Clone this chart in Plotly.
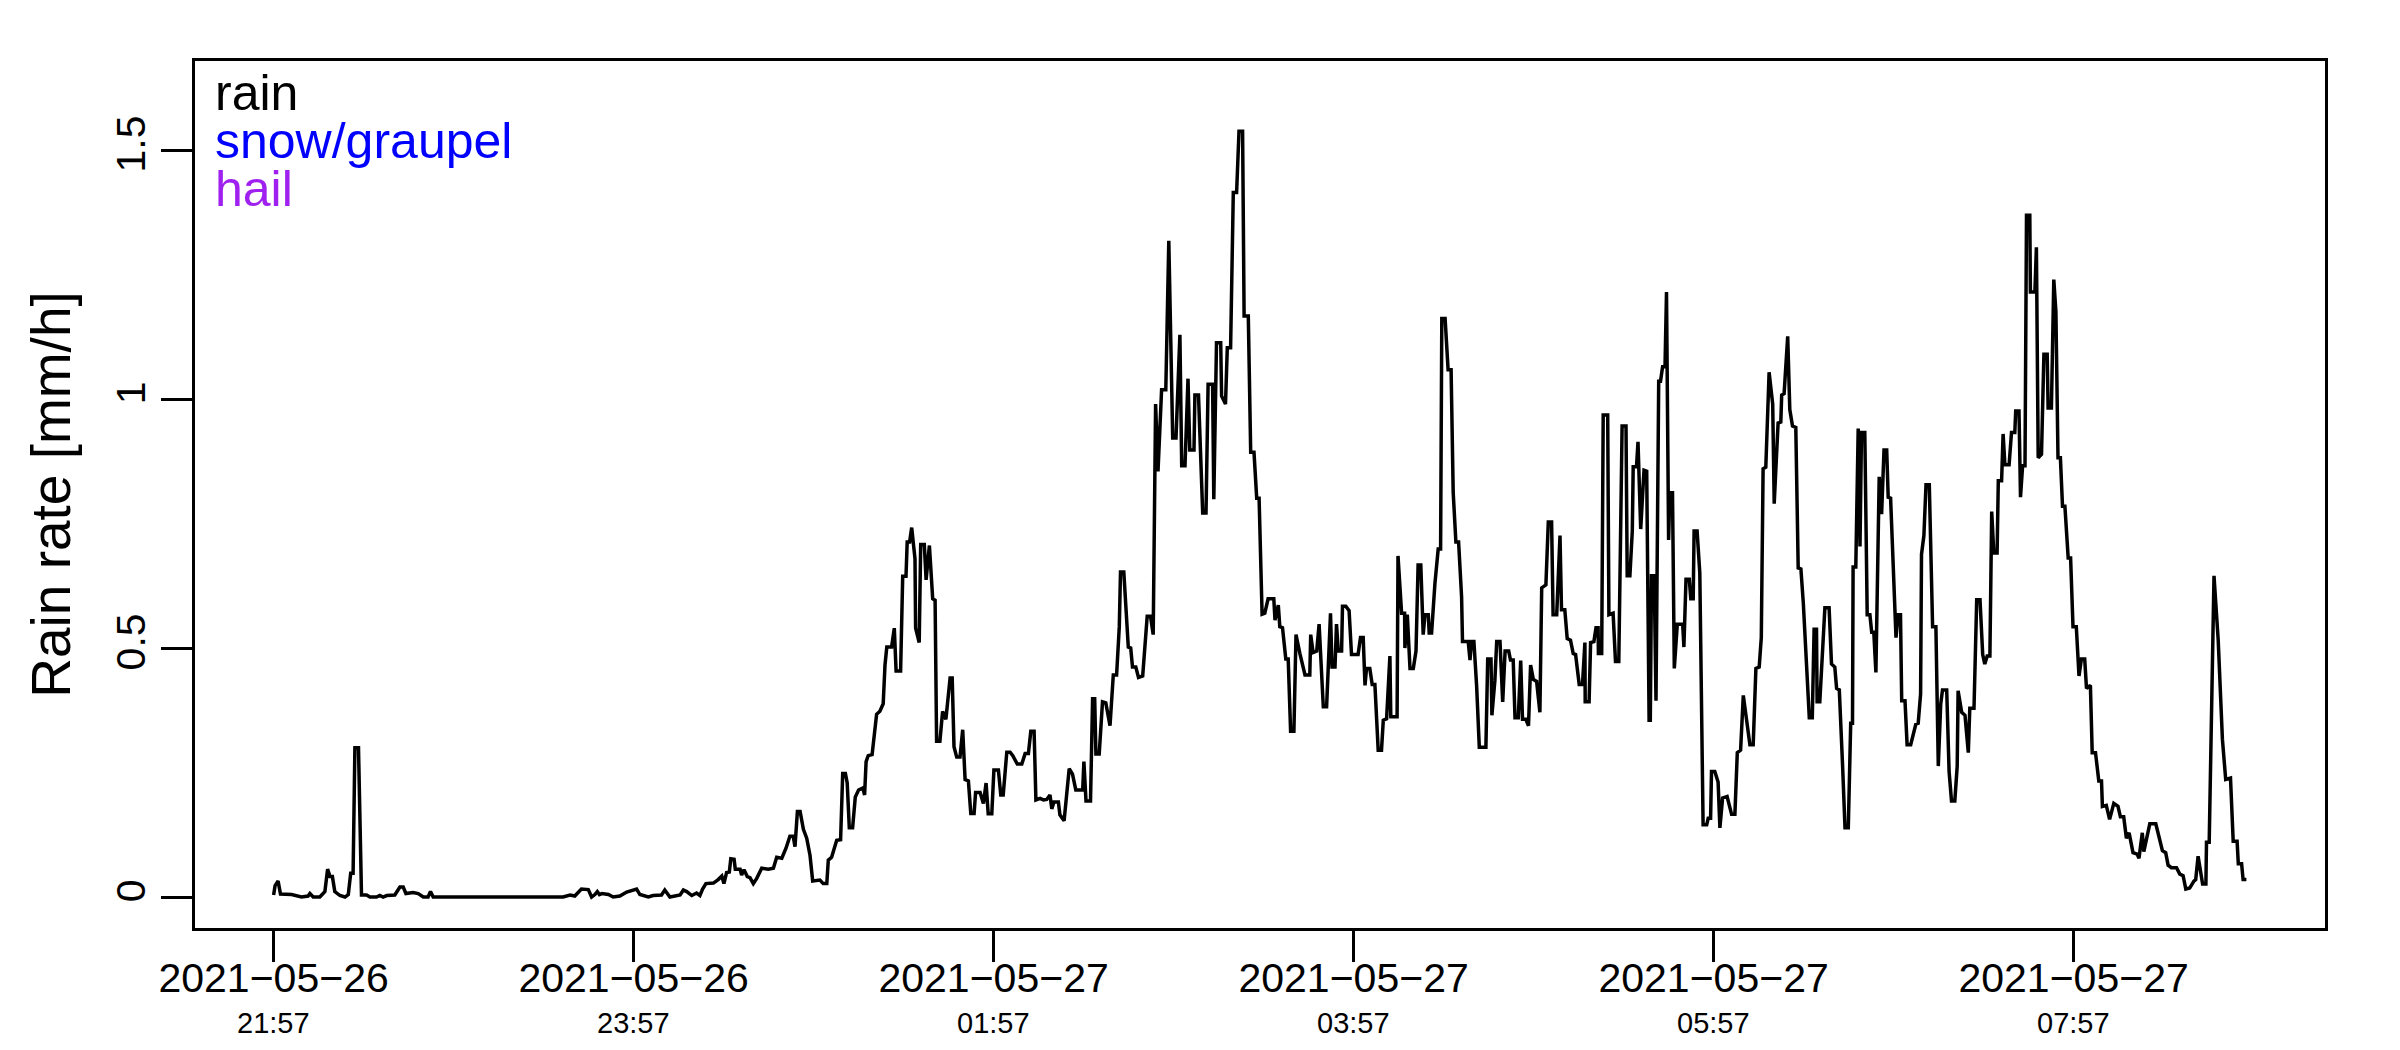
import pandas as pd
import plotly.graph_objects as go

# ---- data (minutes after 2021-05-26 21:57, rain rate mm/h)
start_time = "2021-05-26 21:57"
minutes = [
    0.0, 0.5, 1.5, 2.3, 6.0, 9.3, 11.5, 12.1, 13.2, 15.4, 16.5, 17.1, 18.0, 18.8, 19.6, 20.4,
    22.1, 23.8, 24.9, 25.7, 26.5, 27.1, 28.3, 29.3, 31.0, 32.1, 34.3, 35.4, 36.5, 37.7, 40.4,
    42.1, 43.2, 44.1, 46.5, 48.2, 49.9, 51.5, 52.3, 53.2, 96.5, 98.8, 100.4, 102.6, 104.9,
    106.0, 107.1, 107.9, 108.6, 109.4, 111.6, 113.2, 115.4, 117.7, 121.0, 122.1, 124.9,
    126.5, 129.3, 130.4, 132.1, 135.5, 136.6, 137.7, 139.4, 141.0, 142.1, 143.0, 144.1,
    146.6, 148.2, 149.4, 150.1, 151.0, 151.9, 152.4, 153.5, 153.9, 155.5, 156.0, 156.8,
    157.9, 158.8, 159.9, 161.0, 162.7, 164.9, 166.6, 167.7, 169.4, 170.8, 172.1, 173.2,
    173.8, 174.6, 175.5, 176.6, 177.7, 178.8, 179.7, 182.1, 183.2, 184.4, 184.9, 186.0,
    187.7, 189.0, 189.7, 190.6, 191.2, 191.9, 193.0, 193.9, 195.0, 196.4, 197.0, 197.5,
    198.2, 199.5, 201.0, 202.1, 203.2, 203.8, 204.4, 206.0, 206.9, 207.5, 209.0, 209.7,
    210.8, 211.2, 212.0, 212.7, 213.8, 214.0, 215.2, 215.7, 216.9, 217.5, 218.6, 219.7,
    220.5, 221.0, 222.1, 223.0, 224.1, 225.5, 226.2, 226.8, 227.7, 228.8, 229.7, 230.5,
    231.6, 232.4, 233.5, 234.0, 235.5, 236.6, 237.5, 238.2, 239.4, 240.1, 241.6, 242.4,
    243.2, 244.4, 245.5, 246.4, 247.9, 249.4, 250.5, 251.6, 252.4, 253.5, 254.1, 255.5,
    256.6, 257.7, 258.8, 259.4, 260.1, 261.6, 262.1, 263.5, 265.2, 266.3, 267.4, 269.7,
    270.1, 270.8, 272.3, 273.0, 273.7, 274.1, 275.2, 276.3, 277.4, 278.8, 279.9, 281.0,
    281.9, 282.3, 283.4, 284.9, 285.7, 286.3, 287.4, 288.3, 289.7, 291.2, 292.3, 293.2,
    294.0, 294.8, 296.0, 297.4, 298.4, 299.7, 300.8, 302.1, 302.7, 303.8, 304.8, 305.4,
    306.8, 307.1, 308.3, 309.7, 310.8, 311.5, 313.0, 313.4, 314.3, 315.7, 316.0, 317.3,
    317.9, 319.0, 319.9, 321.0, 321.8, 323.0, 323.5, 324.9, 325.7, 326.8, 327.7, 328.5,
    329.5, 330.4, 331.5, 333.4, 333.8, 334.9, 335.4, 336.3, 337.4, 338.2, 339.0, 340.1,
    340.8, 342.1, 343.8, 345.4, 345.7, 346.5, 347.7, 348.5, 349.9, 351.0, 352.3, 352.8,
    353.8, 354.3, 354.9, 356.0, 356.3, 357.4, 358.5, 359.3, 361.5, 362.3, 363.2, 363.8,
    364.3, 365.4, 366.2, 367.1, 368.2, 369.3, 369.9, 371.0, 372.1, 372.4, 374.5, 374.8,
    376.0, 377.0, 377.1, 377.9, 378.8, 379.9, 380.8, 381.5, 382.4, 383.2, 383.8, 384.9,
    385.2, 386.0, 387.1, 388.2, 389.0, 389.4, 390.5, 391.5, 392.5, 393.2, 394.1, 395.0,
    396.0, 396.3, 398.2, 398.8, 399.3, 400.1, 401.0, 401.9, 404.1, 404.7, 405.8, 406.1,
    407.1, 407.7, 408.8, 409.7, 410.5, 411.7, 412.3, 413.2, 413.8, 414.9, 415.7, 416.3,
    417.4, 418.3, 419.0, 419.9, 421.0, 422.1, 422.7, 424.1, 424.9, 426.0, 426.5, 427.7,
    428.8, 429.3, 430.4, 431.2, 432.3, 433.2, 434.0, 435.2, 436.3, 437.1, 437.2, 438.5,
    439.0, 440.1, 440.8, 441.5, 441.6, 442.7, 443.2, 444.7, 445.1, 446.5, 447.3, 448.4,
    449.5, 450.8, 451.2, 452.1, 452.9, 453.2, 454.3, 454.8, 455.7, 456.8, 457.7, 458.5,
    458.9, 459.3, 460.2, 460.8, 461.7, 462.3, 463.0, 463.8, 464.3, 465.0, 465.4, 466.3,
    466.9, 467.9, 469.7, 470.1, 470.8, 471.9, 472.4, 473.2, 473.5, 474.5, 475.4, 476.5,
    477.7, 478.2, 479.0, 479.3, 480.4, 481.5, 482.1, 483.0, 484.5, 486.0, 487.1, 487.9,
    489.0, 489.9, 490.8, 492.1, 493.2, 494.1, 495.2, 495.9, 496.5, 497.4, 498.5, 499.7,
    500.2, 501.5, 502.4, 502.7, 503.5, 504.7, 505.4, 506.3, 507.4, 508.2, 509.1, 509.9,
    511.9, 512.9, 513.5, 514.3, 514.5, 515.4, 517.1, 518.5, 519.3, 520.4, 521.0, 521.9,
    523.0, 523.8, 524.9, 525.7, 526.3, 526.5, 527.4, 528.2, 528.8, 529.3, 530.4, 531.2,
    532.1, 532.7, 533.4, 534.1, 535.2, 536.0, 536.8, 537.7, 538.2, 539.0, 540.8, 541.5,
    542.3, 542.7, 543.8, 544.5, 545.7, 547.4, 548.2, 549.0, 549.3, 550.1, 550.8, 551.9,
    553.0, 554.1, 554.9, 555.7, 556.3, 557.7, 558.5, 559.3, 560.4, 561.2, 561.5, 562.7,
    563.8, 564.9, 565.4, 566.8, 567.7, 568.8, 569.7, 570.4, 571.2, 572.1, 572.7, 573.4,
    574.5, 574.9, 576.0, 576.5, 577.1, 578.5, 579.3, 580.4, 580.7, 581.8, 582.3, 583.0,
    583.8, 584.3, 585.4, 585.6, 587.1, 587.6, 588.2, 589.3, 590.1, 591.2, 591.5, 592.6,
    593.4, 594.1, 594.8, 595.6, 596.3, 597.1, 598.2, 599.0, 599.8, 600.9, 601.8, 602.6,
    603.7, 604.3, 605.6, 606.2, 607.3, 608.4, 609.3, 609.6, 610.9, 612.0, 613.4, 614.8,
    615.6, 616.7, 617.6, 618.5, 619.8, 621.2, 621.8, 622.9, 623.4, 625.4, 627.4, 629.6,
    630.7, 631.5, 632.6, 634.3, 635.4, 636.5, 637.4, 638.7, 640.1, 640.7, 641.5, 642.3,
    643.0, 644.1, 644.3, 645.2, 646.8, 648.2, 649.6, 650.7, 652.3, 653.2, 654.5, 654.9,
    656.0, 656.5, 657.6,
]
rain_rate = [
    0.004, 0.023, 0.032, 0.006, 0.005, 0.0, 0.002, 0.007, 0.0, 0.0, 0.007, 0.011, 0.056, 0.041, 0.041, 0.011,
    0.003, 0.0, 0.005, 0.048, 0.048, 0.30, 0.30, 0.004, 0.004, 0.0, 0.0, 0.003, 0.0, 0.003, 0.004,
    0.02, 0.02, 0.007, 0.009, 0.007, 0.0, 0.0, 0.011, 0.0, 0.0, 0.004, 0.002, 0.016, 0.015,
    0.0, 0.005, 0.011, 0.005, 0.007, 0.005, 0.0, 0.002, 0.010, 0.016, 0.005, 0.0,
    0.003, 0.004, 0.014, 0.0, 0.004, 0.014, 0.011, 0.003, 0.008, 0.003, 0.016, 0.027,
    0.028, 0.035, 0.042, 0.027, 0.049, 0.050, 0.077, 0.076, 0.056, 0.056, 0.044, 0.055,
    0.041, 0.039, 0.027, 0.037, 0.058, 0.056, 0.058, 0.080, 0.078, 0.098, 0.122, 0.122,
    0.101, 0.172, 0.172, 0.136, 0.118, 0.084, 0.032, 0.034, 0.027, 0.027, 0.074, 0.080,
    0.114, 0.115, 0.248, 0.248, 0.229, 0.139, 0.139, 0.201, 0.215, 0.219, 0.205, 0.272,
    0.284, 0.286, 0.367, 0.373, 0.388, 0.466, 0.502, 0.502, 0.540, 0.454, 0.454, 0.644,
    0.644, 0.713, 0.713, 0.742, 0.679, 0.540, 0.511, 0.708, 0.708, 0.637, 0.706, 0.599,
    0.596, 0.313, 0.313, 0.373, 0.357, 0.440, 0.440, 0.302, 0.281, 0.281, 0.336, 0.236,
    0.233, 0.168, 0.168, 0.210, 0.210, 0.188, 0.229, 0.167, 0.167, 0.255, 0.255, 0.205,
    0.205, 0.291, 0.291, 0.284, 0.267, 0.267, 0.288, 0.288, 0.333, 0.333, 0.195, 0.198,
    0.195, 0.196, 0.205, 0.177, 0.191, 0.191, 0.165, 0.153, 0.258, 0.247, 0.215, 0.215,
    0.272, 0.193, 0.193, 0.398, 0.398, 0.287, 0.287, 0.392, 0.390, 0.344, 0.446, 0.446,
    0.543, 0.653, 0.653, 0.502, 0.500, 0.462, 0.462, 0.441, 0.444, 0.564, 0.564, 0.527,
    0.990, 0.855, 1.019, 1.019, 1.318, 0.922, 0.922, 1.129, 0.866, 0.866, 1.041, 0.898,
    0.898, 1.008, 1.008, 0.771, 0.771, 1.030, 1.030, 0.799, 1.113, 1.113, 1.006, 0.990,
    1.103, 1.103, 1.415, 1.415, 1.538, 1.538, 1.167, 1.167, 0.893, 0.893, 0.801, 0.801,
    0.568, 0.570, 0.599, 0.599, 0.556, 0.586, 0.543, 0.541, 0.478, 0.478, 0.333, 0.333,
    0.527, 0.489, 0.446, 0.446, 0.527, 0.491, 0.494, 0.548, 0.382, 0.382, 0.570, 0.462,
    0.462, 0.548, 0.494, 0.494, 0.584, 0.584, 0.575, 0.487, 0.487, 0.521, 0.521, 0.425,
    0.459, 0.459, 0.427, 0.427, 0.295, 0.295, 0.355, 0.358, 0.484, 0.362, 0.362, 0.685,
    0.570, 0.570, 0.500, 0.567, 0.459, 0.459, 0.494, 0.667, 0.667, 0.527, 0.567, 0.567,
    0.530, 0.530, 0.629, 0.699, 0.699, 1.162, 1.162, 1.059, 1.059, 0.812, 0.713, 0.713,
    0.602, 0.513, 0.513, 0.476, 0.513, 0.513, 0.425, 0.301, 0.301, 0.478, 0.478, 0.365,
    0.435, 0.513, 0.513, 0.392, 0.494, 0.494, 0.476, 0.476, 0.360, 0.360, 0.475, 0.357,
    0.357, 0.344, 0.466, 0.437, 0.433, 0.371, 0.621, 0.627, 0.753, 0.753, 0.567, 0.567,
    0.726, 0.577, 0.577, 0.519, 0.516, 0.489, 0.487, 0.427, 0.427, 0.511, 0.392, 0.392,
    0.511, 0.513, 0.541, 0.541, 0.489, 0.489, 0.968, 0.968, 0.567, 0.570, 0.473, 0.473,
    0.946, 0.946, 0.645, 0.645, 0.735, 0.864, 0.864, 0.914, 0.739, 0.857, 0.855, 0.355,
    0.355, 0.645, 0.645, 0.394, 1.036, 1.036, 1.065, 1.065, 1.215, 0.717, 0.812, 0.812,
    0.459, 0.548, 0.548, 0.502, 0.638, 0.638, 0.599, 0.599, 0.735, 0.735, 0.651, 0.145,
    0.145, 0.158, 0.158, 0.252, 0.252, 0.231, 0.139, 0.199, 0.202, 0.166, 0.166, 0.290,
    0.295, 0.405, 0.362, 0.306, 0.306, 0.459, 0.462, 0.521, 0.860, 0.863, 1.054, 0.990,
    0.790, 0.952, 0.954, 1.008, 1.011, 1.126, 0.979, 0.946, 0.943, 0.661, 0.659, 0.591,
    0.360, 0.360, 0.538, 0.538, 0.392, 0.392, 0.581, 0.581, 0.468, 0.462, 0.419, 0.416,
    0.263, 0.139, 0.139, 0.349, 0.349, 0.663, 0.663, 0.941, 0.704, 0.933, 0.933, 0.567,
    0.567, 0.532, 0.532, 0.451, 0.844, 0.769, 0.898, 0.898, 0.803, 0.801, 0.521, 0.567,
    0.567, 0.394, 0.394, 0.306, 0.306, 0.347, 0.349, 0.408, 0.688, 0.726, 0.828, 0.828,
    0.543, 0.543, 0.263, 0.387, 0.416, 0.416, 0.252, 0.193, 0.193, 0.263, 0.414, 0.371,
    0.365, 0.290, 0.379, 0.379, 0.597, 0.597, 0.487, 0.468, 0.484, 0.484, 0.774, 0.691,
    0.691, 0.836, 0.836, 0.930, 0.868, 0.868, 0.933, 0.933, 0.976, 0.976, 0.803, 0.866,
    0.866, 1.369, 1.369, 1.215, 1.215, 1.305, 0.882, 0.889, 1.090, 1.090, 0.982, 0.982,
    1.240, 1.176, 0.882, 0.882, 0.785, 0.785, 0.681, 0.681, 0.543, 0.543, 0.444, 0.478,
    0.478, 0.419, 0.425, 0.290, 0.290, 0.233, 0.233, 0.182, 0.184, 0.156, 0.188, 0.182,
    0.161, 0.161, 0.118, 0.129, 0.089, 0.086, 0.078, 0.129, 0.091, 0.147, 0.147, 0.093,
    0.089, 0.064, 0.059, 0.059, 0.046, 0.043, 0.016, 0.018, 0.032, 0.035, 0.082, 0.048,
    0.026, 0.026, 0.110, 0.110, 0.645, 0.516, 0.317, 0.236, 0.239, 0.112, 0.112, 0.067,
    0.067, 0.035, 0.035,
]

tick_times = ["2021-05-26 21:57", "2021-05-26 23:57", "2021-05-27 01:57",
              "2021-05-27 03:57", "2021-05-27 05:57", "2021-05-27 07:57"]
tick_dates = ["2021\u221205\u221226", "2021\u221205\u221226", "2021\u221205\u221227",
              "2021\u221205\u221227", "2021\u221205\u221227", "2021\u221205\u221227"]
tick_clock = ["21:57", "23:57", "01:57", "03:57", "05:57", "07:57"]

y_ticks = [0, 0.5, 1, 1.5]
y_ticktext = ["0", "0.5", "1", "1.5"]

legend_labels = ["rain", "snow/graupel", "hail"]
legend_colors = ["#000000", "#0000FF", "#A020F0"]

x_range = ["2021-05-26 21:30:48", "2021-05-27 09:20:48"]
y_range = [-0.0622, 1.679]

# ---- figure
times = pd.to_datetime(start_time) + pd.to_timedelta(minutes, unit="min")

FONT = "Liberation Sans, Arial, Helvetica, sans-serif"

fig = go.Figure()
fig.add_trace(go.Scatter(
    x=times, y=rain_rate, mode="lines",
    line=dict(color="black", width=3.5),
    showlegend=False, hoverinfo="skip",
))

annotations = []
for lab, col, yy in zip(legend_labels, legend_colors, [0.9626, 0.9073, 0.8519]):
    annotations.append(dict(
        text=lab, x=0.0085, y=yy, xref="paper", yref="paper",
        xanchor="left", yanchor="middle", showarrow=False,
        font=dict(family=FONT, size=50, color=col),
    ))
for t, c in zip(tick_times, tick_clock):
    annotations.append(dict(
        text=c, x=t, y=-0.1095, xref="x", yref="paper",
        xanchor="center", yanchor="middle", showarrow=False,
        font=dict(family=FONT, size=29, color="black"),
    ))

fig.update_layout(
    width=2392, height=1042,
    margin=dict(l=187, r=75, t=53, b=122),
    paper_bgcolor="white", plot_bgcolor="white",
    font=dict(family=FONT, color="black"),
    annotations=annotations,
    xaxis=dict(
        type="date", range=x_range,
        tickmode="array", tickvals=tick_times, ticktext=tick_dates,
        ticks="outside", ticklen=31, tickwidth=3, tickcolor="black",
        ticklabelstandoff=-19,
        tickfont=dict(family=FONT, size=41, color="black"),
        showline=True, linecolor="black", linewidth=3, mirror=True,
        showgrid=False, zeroline=False,
    ),
    yaxis=dict(
        range=y_range,
        tickmode="array", tickvals=y_ticks, ticktext=y_ticktext,
        tickangle=-90,
        ticks="outside", ticklen=31, tickwidth=3, tickcolor="black",
        tickfont=dict(family=FONT, size=41, color="black"),
        showline=True, linecolor="black", linewidth=3, mirror=True,
        showgrid=False, zeroline=False,
        title=dict(text="Rain rate [mm/h]", font=dict(family=FONT, size=55, color="black"),
                   standoff=20),
    ),
)

fig.write_html("out.html")
